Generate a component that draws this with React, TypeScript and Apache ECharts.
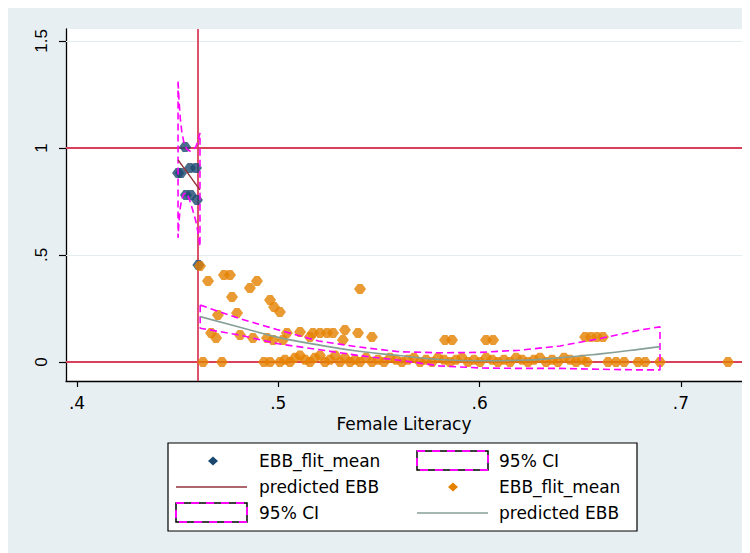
import { useEffect, useRef } from "react";
import * as echarts from "echarts";

// Literacy cut-off separating the two fitted segments
const threshold = 0.4612;

const xTicks = [0.4, 0.5, 0.6, 0.7];
const yTicks = [0, 0.5, 1, 1.5];

// Districts below the cut-off
const lowLiteracy = [0.4502, 0.4517, 0.4537, 0.4561, 0.4591, 0.4541, 0.4566, 0.4596, 0.4603];
const lowEbb = [0.883, 0.883, 1.005, 0.907, 0.907, 0.78, 0.78, 0.757, 0.453];

// Districts at or above the cut-off
const highLiteracy = [
  0.4611, 0.4651, 0.473, 0.476, 0.4894, 0.4859, 0.477, 0.4959, 0.4979, 0.5008,
  0.4795, 0.47, 0.5406, 0.4666, 0.4691, 0.481, 0.4874, 0.4944, 0.4974, 0.5023,
  0.5043, 0.5108, 0.5157, 0.5172, 0.5207, 0.5242, 0.5272, 0.5331, 0.5321, 0.5396,
  0.5465, 0.5828, 0.5863, 0.6032, 0.6067, 0.6524, 0.6553, 0.6583, 0.6613,
  0.4626, 0.472, 0.4929, 0.4959, 0.5008, 0.5033, 0.5058, 0.5083, 0.5108, 0.5133,
  0.5157, 0.5182, 0.5207, 0.5232, 0.5257, 0.5282, 0.5307, 0.5331, 0.5356, 0.5381,
  0.5406, 0.5436, 0.5465, 0.5495, 0.5525, 0.5555, 0.5585, 0.5614, 0.5644, 0.5674,
  0.5704, 0.5734, 0.5764, 0.5793, 0.5823, 0.5853, 0.5883, 0.5913, 0.5942, 0.5972,
  0.6002, 0.6032, 0.6062, 0.6091, 0.6121, 0.6151, 0.6181, 0.6211, 0.624, 0.627,
  0.63, 0.633, 0.636, 0.6389, 0.6419, 0.6449, 0.6479, 0.6509, 0.6534,
  0.6638, 0.6678, 0.6718, 0.6787, 0.6822, 0.6896, 0.7234,
];
const highEbb = [
  0.449, 0.378, 0.407, 0.407, 0.378, 0.346, 0.304, 0.29, 0.257, 0.234,
  0.229, 0.22, 0.341, 0.136, 0.112, 0.126, 0.112, 0.112, 0.103, 0.103,
  0.136, 0.14, 0.117, 0.136, 0.136, 0.136, 0.136, 0.15, 0.103, 0.136,
  0.117, 0.103, 0.103, 0.103, 0.103, 0.117, 0.117, 0.117, 0.117,
  0, 0, 0, 0, 0, 0.01, 0, 0.02, 0.03, 0.01,
  0, 0.02, 0.03, 0, 0.01, 0.03, 0, 0.02, 0, 0.01,
  0, 0.02, 0, 0.01, 0, 0.02, 0.01, 0, 0.01, 0.02,
  0, 0.01, 0, 0.02, 0.01, 0, 0.01, 0.02, 0, 0.01,
  0, 0.02, 0.01, 0, 0.01, 0, 0.02, 0.01, 0, 0.01,
  0.02, 0, 0.01, 0, 0.02, 0.01, 0, 0.01, 0,
  0, 0, 0, 0, 0, 0, 0,
];

// Quadratic fit and 95% band, lower segment
const fitLowX = [0.4502, 0.4507, 0.4513, 0.452, 0.453, 0.4545, 0.456, 0.4575, 0.459, 0.46, 0.4611];
const fitLowY = [0.944, 0.938, 0.93, 0.921, 0.908, 0.889, 0.87, 0.85, 0.831, 0.818, 0.804];
const ciLowUpper = [1.31, 1.22, 1.14, 1.08, 1.03, 0.995, 0.985, 0.99, 1.005, 1.03, 1.07];
const ciLowLower = [0.58, 0.66, 0.72, 0.76, 0.785, 0.79, 0.755, 0.71, 0.66, 0.61, 0.54];

// Quadratic fit and 95% band, upper segment
const fitHighX = [0.4612, 0.48, 0.5, 0.52, 0.54, 0.56, 0.58, 0.6, 0.62, 0.64, 0.66, 0.68, 0.6896];
const fitHighY = [0.212, 0.165, 0.115, 0.08, 0.05, 0.03, 0.012, 0.006, 0.008, 0.02, 0.038, 0.06, 0.072];
const ciHighUpper = [0.266, 0.205, 0.15, 0.098, 0.07, 0.048, 0.043, 0.045, 0.055, 0.075, 0.11, 0.15, 0.164];
const ciHighLower = [0.158, 0.127, 0.085, 0.058, 0.03, 0.008, -0.018, -0.028, -0.03, -0.03, -0.034, -0.037, -0.037];

const NAVY = "#1a476f";
const ORANGE = "#e58100";
const MAROON = "#90353b";
const SAGE = "#86a096";
const MAGENTA = "#ff00ff";
const REFRED = "#d9405c";
const GRID = "#e3ecef";
const BG = "#e8eff3";
const TEXT_FONT = "DejaVu Sans";
// Stretched diamond marker with blunted side points
const MARKER = "path://M0,5 L4,0 L9,0 L13,5 L9,10 L4,10 Z";
const MARK_SIZE = [12, 10];

const pairs = (xs: number[], ys: number[]) => xs.map((x, i) => [x, ys[i]]);

// Closed outline of a confidence band: upper edge, right end, lower edge back, left end
const bandOutline = (xs: number[], up: number[], lo: number[]) => [
  ...pairs(xs, up),
  ...pairs(xs, lo).reverse(),
  [xs[0], up[0]],
];

const fmtTick = (v: number) => {
  const s = String(Math.round(v * 10) / 10);
  return s.startsWith("0.") ? s.slice(1) : s;
};

const diamond = (cx: number, cy: number, color: string) => ({
  type: "polygon",
  shape: { points: [[cx - 5, cy], [cx, cy - 4.5], [cx + 5, cy], [cx, cy + 4.5]] },
  style: { fill: color },
});

const lineKey = (x: number, y: number, color: string, width: number) => ({
  type: "line",
  shape: { x1: x, y1: y, x2: x + 71, y2: y },
  style: { stroke: color, lineWidth: width },
});

const ciKey = (x: number, y: number) => ({
  type: "group",
  children: [
    { type: "rect", shape: { x, y, width: 71, height: 19 }, style: { fill: "#fff", stroke: "#000", lineWidth: 1.5 } },
    { type: "rect", shape: { x, y, width: 71, height: 19 }, style: { fill: "none", stroke: MAGENTA, lineWidth: 2, lineDash: [8, 7] } },
  ],
});

const legendText = (x: number, y: number, text: string) => ({
  type: "text",
  x,
  y,
  style: { text, fill: "#000", font: `17px "${TEXT_FONT}"`, verticalAlign: "middle", align: "left" },
});

export default function App() {
  const ref = useRef<HTMLDivElement>(null);

  useEffect(() => {
    if (!ref.current) return;
    const chart = echarts.init(ref.current, null, { renderer: "svg" });

    const rows = [453, 479, 505];
    const option: any = {
      animation: false,
      backgroundColor: BG,
      grid: { left: 58, right: 8, top: 21, bottom: 172, show: true, backgroundColor: "#fff", borderWidth: 0 },
      xAxis: {
        type: "value",
        min: 0.39454,
        max: 0.73035,
        name: "Female Literacy",
        nameLocation: "middle",
        nameGap: 31,
        nameTextStyle: { fontFamily: TEXT_FONT, fontSize: 17, color: "#000" },
        axisLine: { show: true, onZero: false, lineStyle: { color: "#000", width: 1.3 } },
        axisTick: { show: true, length: 6, customValues: xTicks, lineStyle: { color: "#000", width: 1.2 } },
        axisLabel: { customValues: xTicks, formatter: fmtTick, margin: 13, fontFamily: TEXT_FONT, fontSize: 17, color: "#000" },
        splitLine: { show: false },
      },
      yAxis: {
        type: "value",
        min: -0.0888,
        max: 1.556,
        axisLine: { show: true, onZero: false, lineStyle: { color: "#000", width: 1.3 } },
        axisTick: { show: true, length: 7, customValues: yTicks, lineStyle: { color: "#000", width: 1.2 } },
        axisLabel: {
          customValues: yTicks,
          formatter: fmtTick,
          rotate: 90,
          margin: 16,
          fontFamily: "Liberation Sans",
          fontSize: 17,
          color: "#000",
        },
        splitLine: { show: false },
      },
      series: [
        {
          type: "line",
          data: [],
          z: 1,
          markLine: {
            z: 1,
            silent: true,
            symbol: "none",
            label: { show: false },
            data: [
              { yAxis: 0.5, lineStyle: { color: GRID, width: 1.2, type: "solid" } },
              { yAxis: 1.5, lineStyle: { color: GRID, width: 1.2, type: "solid" } },
              { yAxis: 0, lineStyle: { color: REFRED, width: 1.8, type: "solid" } },
              { yAxis: 1, lineStyle: { color: REFRED, width: 1.8, type: "solid" } },
              { xAxis: threshold, lineStyle: { color: REFRED, width: 1.8, type: "solid" } },
            ],
          },
        },
        {
          type: "scatter",
          name: "EBB_flit_mean",
          data: pairs(lowLiteracy, lowEbb),
          symbol: MARKER,
          symbolSize: MARK_SIZE,
          itemStyle: { color: NAVY },
          z: 3,
        },
        {
          type: "line",
          name: "95% CI",
          data: bandOutline(fitLowX, ciLowUpper, ciLowLower),
          showSymbol: false,
          symbol: "none",
          lineStyle: { color: MAGENTA, width: 1.6, type: [7, 4] },
          z: 4,
        },
        {
          type: "line",
          name: "predicted EBB",
          data: pairs(fitLowX, fitLowY),
          showSymbol: false,
          symbol: "none",
          smooth: true,
          lineStyle: { color: MAROON, width: 1.4 },
          z: 5,
        },
        {
          type: "scatter",
          name: "EBB_flit_mean ",
          data: pairs(highLiteracy, highEbb),
          symbol: MARKER,
          symbolSize: MARK_SIZE,
          itemStyle: { color: ORANGE },
          z: 3,
        },
        {
          type: "line",
          name: "95% CI ",
          data: bandOutline(fitHighX, ciHighUpper, ciHighLower),
          showSymbol: false,
          symbol: "none",
          lineStyle: { color: MAGENTA, width: 1.6, type: [7, 4] },
          z: 4,
        },
        {
          type: "line",
          name: "predicted EBB ",
          data: pairs(fitHighX, fitHighY),
          showSymbol: false,
          symbol: "none",
          smooth: true,
          lineStyle: { color: SAGE, width: 1.6 },
          z: 5,
        },
      ],
      graphic: [
        {
          type: "rect",
          shape: { x: 160, y: 435, width: 469, height: 88 },
          style: { fill: "#fff", stroke: "#000", lineWidth: 1.2 },
        },
        diamond(205, rows[0], NAVY),
        legendText(251, rows[0], "EBB_flit_mean"),
        ciKey(409, rows[0] - 10),
        legendText(491, rows[0], "95% CI"),
        lineKey(168, rows[1], MAROON, 1.4),
        legendText(251, rows[1], "predicted EBB"),
        diamond(445, rows[1], ORANGE),
        legendText(491, rows[1], "EBB_flit_mean"),
        ciKey(168, rows[2] - 10),
        legendText(251, rows[2], "95% CI"),
        lineKey(409, rows[2], SAGE, 1.6),
        legendText(491, rows[2], "predicted EBB"),
      ],
    };

    chart.setOption(option);
    return () => chart.dispose();
  }, []);

  return <div ref={ref} style={{ width: 742, height: 545 }} />;
}
